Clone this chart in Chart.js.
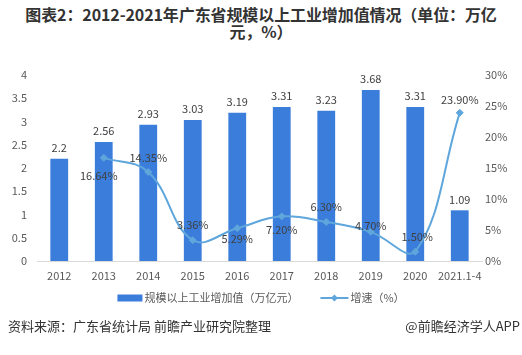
<!DOCTYPE html>
<html><head><meta charset="utf-8">
<script src="https://cdn.jsdelivr.net/npm/chart.js@4/dist/chart.umd.min.js"></script>
<style>
html,body{margin:0;padding:0;background:#fff;}
#wrap{position:relative;width:522px;height:355px;overflow:hidden;font-family:"Noto Sans CJK SC","Noto Sans",sans-serif;}
#title{position:absolute;left:0;top:6px;width:522px;text-align:center;font-weight:bold;font-size:16px;line-height:17px;color:#333;letter-spacing:-0.1px;}
#cv{position:absolute;left:0;top:45px;}
#src{position:absolute;left:8px;top:316px;font-size:13px;color:#333;}
#app{position:absolute;right:2px;top:316px;font-size:13px;color:#333;}
</style></head>
<body><div id="wrap">
<div id="title">图表2：2012-2021年广东省规模以上工业增加值情况（单位：万亿<br>元，%）</div>
<canvas id="cv" width="522" height="275"></canvas>
<div id="src">资料来源：广东省统计局 前瞻产业研究院整理</div>
<div id="app">@前瞻经济学人APP</div>
</div>
<script>
const categories = ['2012','2013','2014','2015','2016','2017','2018','2019','2020','2021.1-4'];
const valueAdded = [2.2, 2.56, 2.93, 3.03, 3.19, 3.31, 3.23, 3.68, 3.31, 1.09];
const growthRate = [null, 16.64, 14.35, 3.36, 5.29, 7.20, 6.30, 4.70, 1.50, 23.90];
const barLabel = '规模以上工业增加值（万亿元）';
const lineLabel = '增速（%）';
const leftTicks = {min:0, max:4, step:0.5};
const rightTicks = {min:0, max:30, step:5};

const BAR_COLOR = '#3b7ddb';
const LINE_COLOR = '#5ea6db';
const FONT = '"Noto Sans CJK SC","Noto Sans",sans-serif';

const labelPlugin = {
  id:'labels',
  afterDatasetsDraw(chart){
    const ctx = chart.ctx;
    ctx.save();
    ctx.font = '11px ' + FONT;
    ctx.fillStyle = '#404040';
    ctx.textAlign = 'center';
    ctx.textBaseline = 'middle';
    const bm = chart.getDatasetMeta(0);
    bm.data.forEach((el,i)=>{
      ctx.fillText(String(valueAdded[i]), el.x, el.y - 11);
    });
    const lm = chart.getDatasetMeta(1);
    const offs = [[0,0],[-5,18],[0,-14],[0,-15],[0,11],[0,13],[0,-15],[0,-6],[2,-15],[0,-13]];
    lm.data.forEach((el,i)=>{
      if (growthRate[i] == null) return;
      ctx.fillText(growthRate[i].toFixed(2) + '%', el.x + offs[i][0], el.y + offs[i][1]);
    });
    ctx.restore();
  },
  afterDraw(chart){
    const ctx = chart.ctx;
    ctx.save();
    ctx.font = '11px ' + FONT;
    ctx.textBaseline = 'middle';
    const y = chart.chartArea.bottom + 37;
    const t1 = chart.data.datasets[0].label, t2 = chart.data.datasets[1].label;
    const w1 = ctx.measureText(t1).width, w2 = ctx.measureText(t2).width;
    const total = 25 + 2 + w1 + 22 + 28 + 2 + w2;
    let x = (chart.width - total)/2;
    ctx.fillStyle = BAR_COLOR;
    ctx.fillRect(x, y-3.5, 25, 7);
    x += 27;
    ctx.fillStyle = '#595959';
    ctx.fillText(t1, x, y);
    x += w1 + 22;
    ctx.strokeStyle = LINE_COLOR; ctx.lineWidth = 2;
    ctx.beginPath(); ctx.moveTo(x, y); ctx.lineTo(x+28, y); ctx.stroke();
    ctx.fillStyle = LINE_COLOR;
    const cx = x+14;
    ctx.beginPath(); ctx.moveTo(cx, y-3.5); ctx.lineTo(cx+3.5, y); ctx.lineTo(cx, y+3.5); ctx.lineTo(cx-3.5, y); ctx.closePath(); ctx.fill();
    x += 30;
    ctx.fillStyle = '#595959';
    ctx.fillText(t2, x, y);
    ctx.restore();
  }
};

new Chart(document.getElementById('cv'), {
  data:{
    labels:categories,
    datasets:[
      {type:'bar', label:barLabel, data:valueAdded, backgroundColor:BAR_COLOR, yAxisID:'y', barPercentage:0.8, categoryPercentage:0.5, order:2},
      {type:'line', label:lineLabel, data:growthRate, borderColor:LINE_COLOR, backgroundColor:LINE_COLOR, borderWidth:2, tension:0.4, pointStyle:'rectRot', pointRadius:3.5, pointBorderWidth:1, yAxisID:'y1', order:1, spanGaps:false}
    ]
  },
  options:{
    responsive:false, animation:false,
    layout:{padding:{top:30,left:0,right:0,bottom:0}},
    plugins:{legend:{display:false}, tooltip:{enabled:false}},
    scales:{
      x:{grid:{display:false, drawTicks:false}, border:{color:'#d9d9d9'},
         ticks:{padding:8, color:'#595959', font:{size:11, family:FONT}, maxRotation:0, autoSkip:false},
         afterFit(s){ s.height = 59; }},
      y:{position:'left', min:leftTicks.min, max:leftTicks.max, grid:{display:false, drawTicks:false}, border:{display:false},
         ticks:{stepSize:leftTicks.step, padding:10, color:'#595959', font:{size:11, family:FONT}, callback:v=>String(v)},
         afterFit(s){ s.width = 37; }},
      y1:{position:'right', min:rightTicks.min, max:rightTicks.max, grid:{display:false, drawTicks:false}, border:{display:false},
         ticks:{stepSize:rightTicks.step, padding:3, color:'#595959', font:{size:11, family:FONT}, callback:v=>v+'%'},
         afterFit(s){ s.width = 40; }}
    }
  },
  plugins:[labelPlugin]
});
</script>
</body></html>
